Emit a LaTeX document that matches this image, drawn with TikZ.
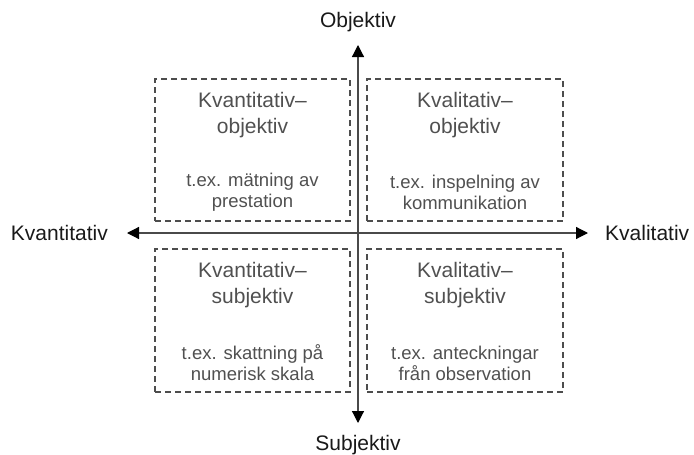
\documentclass[tikz,border=0pt]{standalone}
\usepackage{fontspec}
\setmainfont{Liberation Sans}
\usetikzlibrary{arrows.meta}
\definecolor{axisgray}{HTML}{4A4A4A}
\definecolor{boxgray}{HTML}{4D4D4D}
\definecolor{textgray}{HTML}{505050}
\tikzset{
  axis/.style={draw=axisgray, line width=1.2pt,
    {Triangle[length=12pt,width=12pt,fill=black,color=black]}-{Triangle[length=12pt,width=12pt,fill=black,color=black]}},
  quadbox/.style={draw=boxgray, line width=1.5pt, dash pattern=on 6pt off 4pt,
    rectangle, inner sep=0pt},
  quadtitle/.style={text=textgray, align=center, font=\fontsize{21}{26}\selectfont, inner sep=0pt},
  quadnote/.style={text=textgray, align=center, font=\fontsize{18.5}{21}\selectfont, inner sep=0pt},
  axislabel/.style={text=black!90, font=\fontsize{21}{25}\selectfont, inner sep=0pt}
}
\begin{document}
\begin{tikzpicture}[x=1pt,y=-1pt]
  \useasboundingbox (0,0) rectangle (694,455);

  % axis end points
  \coordinate (ytop) at (358,45);
  \coordinate (ybot) at (358,423);
  \coordinate (xleft) at (127,233);
  \coordinate (xright) at (588,233);

  % quadrant boxes
  \node[quadbox, minimum width=195pt, minimum height=142pt] (tl) at (252.5,150) {};
  \node[quadbox, minimum width=196pt, minimum height=142pt] (tr) at (465,150) {};
  \node[quadbox, minimum width=195pt, minimum height=143pt] (bl) at (252.5,320.5) {};
  \node[quadbox, minimum width=196pt, minimum height=143pt] (br) at (465,320.5) {};

  % axes
  \draw[axis] (ytop) -- (ybot);
  \draw[axis] (xleft) -- (xright);

  % axis labels
  \node[axislabel] (lobj) at (358,22) {Objektiv};
  \node[axislabel, anchor=base] (lsub) at (358,450) {Subjektiv};
  \node[axislabel, anchor=east] (lkvant) at (108,233) {Kvantitativ};
  \node[axislabel, anchor=west] (lkval) at (605,233) {Kvalitativ};

  % quadrant texts
  \node[quadtitle] (tlt) at (252.5,115) {Kvantitativ–\\objektiv};
  \node[quadnote]  (tln) at (252.5,192.5) {t.ex. mätning av\\prestation};
  \node[quadtitle] (trt) at (465,115) {Kvalitativ–\\objektiv};
  \node[quadnote]  (trn) at (465,192.5) {t.ex. inspelning av\\kommunikation};
  \node[quadtitle] (blt) at (252.5,285.5) {Kvantitativ–\\subjektiv};
  \node[quadnote]  (bln) at (252.5,363) {t.ex. skattning på\\numerisk skala};
  \node[quadtitle] (brt) at (465,285.5) {Kvalitativ–\\subjektiv};
  \node[quadnote]  (brn) at (465,363) {t.ex. anteckningar\\från observation};
\end{tikzpicture}
\end{document}
